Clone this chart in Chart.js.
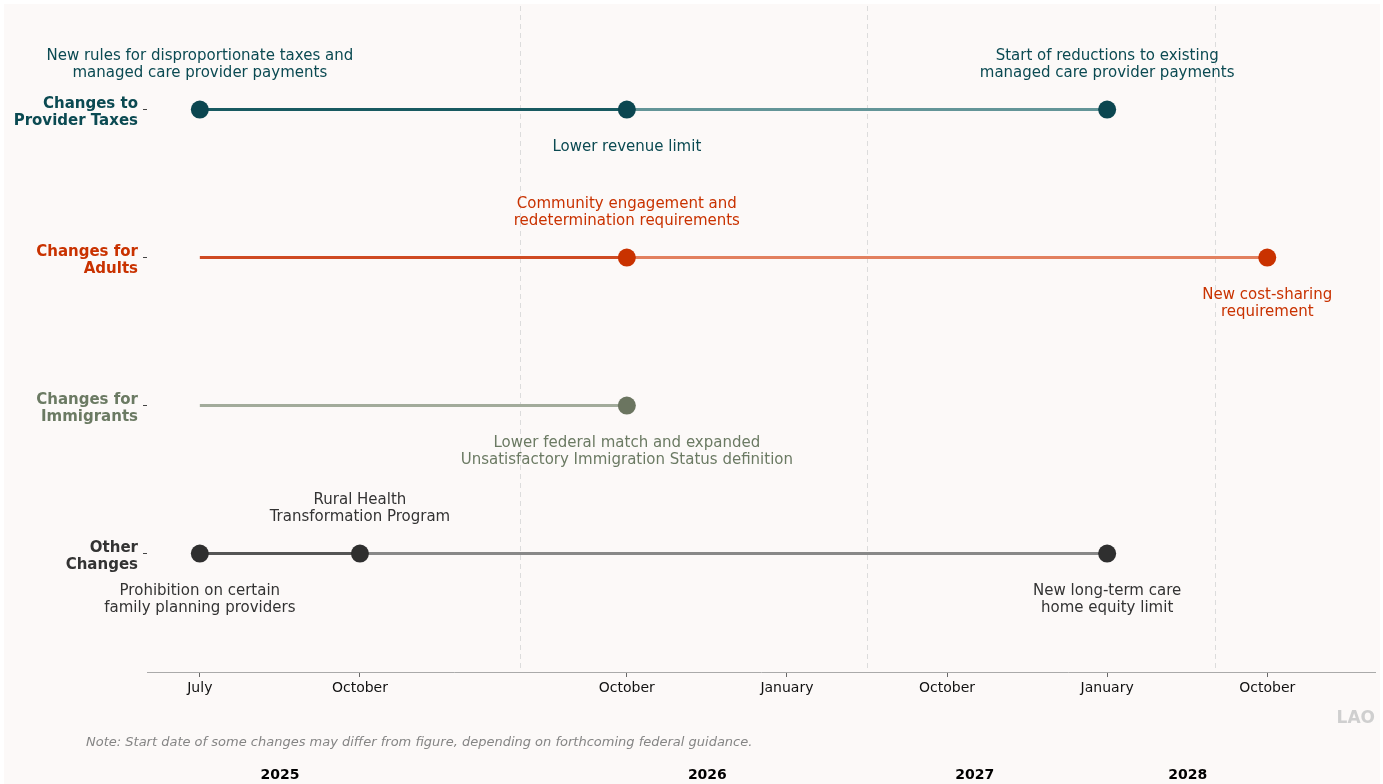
<!DOCTYPE html>
<html>
<head>
<meta charset="utf-8">
<script src="https://cdn.jsdelivr.net/npm/chart.js@4/dist/chart.umd.min.js"></script>
<style>
  html, body { margin: 0; padding: 0; background: #fff; }
  #wrap { width: 1383px; height: 784px; }
</style>
</head>
<body>
<div id="wrap"><canvas id="timeline" width="1383" height="784"></canvas></div>
<script>
// rows, top to bottom
const rowLabels = [['Changes to', 'Provider Taxes'], ['Changes for', 'Adults'], ['Changes for', 'Immigrants'], ['Other', 'Changes']];
const rowValues = [3, 2, 1, 0];
const rowColors = ['#0b4a52', '#c93200', '#6b7a63', '#333333'];
const rowSolid = ['#185a61', '#cf4a22', '#a2ab9b', '#555555'];
const rowFaded = ['#639598', '#e2805f', '#a2ab9b', '#888888'];
const rowPointColors = ['#0b4650', '#c93200', '#6b7560', '#2f2f2f'];

// timeline positions (axis units) of each row's milestones
const taxesDates = [0, 2.667, 5.667];
const adultsDates = [0, 2.667, 6.667];
const immigrantsDates = [0, 2.667];
const otherDates = [0, 1, 5.667];
const rowDates = [taxesDates, adultsDates, immigrantsDates, otherDates];
// whether a milestone gets a marker
const rowMarkers = [[1, 1, 1], [0, 1, 1], [0, 1], [1, 1, 1]];

// x axis
const tickValues = [0, 1, 2.667, 3.667, 4.667, 5.667, 6.667];
const tickLabels = ['July', 'October', 'October', 'January', 'October', 'January', 'October'];
const yearDividers = [2.0, 4.17, 6.34];
const yearLabels = ['2025', '2026', '2027', '2028'];
const yearLabelPos = [0.5, 3.17, 4.84, 6.17];

// annotations: [row index, x, side, lines]
const notes = [
  [0, 0, 'above', ['New rules for disproportionate taxes and', 'managed care provider payments']],
  [0, 2.667, 'below', ['Lower revenue limit']],
  [0, 5.667, 'above', ['Start of reductions to existing', 'managed care provider payments']],
  [1, 2.667, 'above', ['Community engagement and', 'redetermination requirements']],
  [1, 6.667, 'below', ['New cost-sharing', 'requirement']],
  [2, 2.667, 'below', ['Lower federal match and expanded', 'Unsatisfactory Immigration Status definition']],
  [3, 0, 'below', ['Prohibition on certain', 'family planning providers']],
  [3, 1, 'above', ['Rural Health', 'Transformation Program']],
  [3, 5.667, 'below', ['New long-term care', 'home equity limit']],
];

const FONT = "'DejaVu Sans', sans-serif";

const datasets = rowDates.map((dates, r) => ({
  data: dates.map(x => ({ x, y: rowValues[r] })),
  borderWidth: 3,
  borderColor: rowSolid[r],
  segment: { borderColor: ctx => ctx.p0DataIndex === 0 ? rowSolid[r] : rowFaded[r] },
  pointRadius: rowMarkers[r].map(m => m ? 9 : 0),
  pointHoverRadius: rowMarkers[r].map(m => m ? 9 : 0),
  pointBackgroundColor: rowPointColors[r],
  pointBorderColor: rowPointColors[r],
  pointBorderWidth: 0,
  clip: false,
}));

const backdrop = {
  id: 'backdrop',
  beforeDraw(chart) {
    const c = chart.ctx;
    c.save();
    c.fillStyle = '#ffffff';
    c.fillRect(0, 0, chart.width, chart.height);
    c.fillStyle = '#fcf9f8';
    c.fillRect(4, 4, chart.width - 7, chart.height - 4);
    c.restore();
  },
  beforeDatasetsDraw(chart) {
    const c = chart.ctx, xs = chart.scales.x, a = chart.chartArea;
    c.save();
    c.strokeStyle = '#dcdcdc';
    c.lineWidth = 1;
    c.setLineDash([5, 4]);
    yearDividers.forEach(v => {
      const px = Math.round(xs.getPixelForValue(v)) + 0.5;
      c.beginPath();
      c.moveTo(px, a.top);
      c.lineTo(px, a.bottom);
      c.stroke();
    });
    c.restore();
  },
  afterDraw(chart) {
    const c = chart.ctx, xs = chart.scales.x, ys = chart.scales.y;
    c.save();
    c.textAlign = 'center';
    c.textBaseline = 'middle';
    c.font = '15px ' + FONT;
    notes.forEach(([r, x, side, lines]) => {
      const px = xs.getPixelForValue(x);
      const py = ys.getPixelForValue(rowValues[r]) + 1;
      c.fillStyle = rowColors[r];
      lines.forEach((t, i) => {
        const y = side === 'above' ? py - 37 - (lines.length - 1 - i) * 17 : py + 37 + i * 17;
        c.fillText(t, px, y);
      });
    });
    c.fillStyle = '#000';
    c.font = 'bold 14px ' + FONT;
    yearLabels.forEach((t, i) => c.fillText(t, xs.getPixelForValue(yearLabelPos[i]), 775));
    c.textAlign = 'left';
    c.fillStyle = '#858585';
    c.font = 'italic 13px ' + FONT;
    c.fillText('Note: Start date of some changes may differ from figure, depending on forthcoming federal guidance.', 86, 743);
    c.textAlign = 'right';
    c.fillStyle = '#cfcfcf';
    c.font = 'bold 17px ' + FONT;
    c.fillText('LAO', 1375, 719);
    c.restore();
  }
};

new Chart(document.getElementById('timeline'), {
  type: 'line',
  data: { datasets },
  options: {
    responsive: false,
    animation: false,
    events: [],
    layout: { autoPadding: false, padding: { left: 0, right: 8, top: 6, bottom: 0 } },
    plugins: { legend: { display: false }, tooltip: { enabled: false } },
    scales: {
      x: {
        type: 'linear',
        min: -0.33,
        max: 7.34,
        afterBuildTicks: s => { s.ticks = tickValues.map(v => ({ value: v })); },
        afterFit: s => { s.height = 112; s.paddingLeft = 0; s.paddingRight = 0; },
        ticks: {
          callback: (v, i) => tickLabels[i],
          color: '#111',
          font: { family: FONT, size: 14 },
          padding: 3,
          maxRotation: 0,
          autoSkip: false,
        },
        grid: { drawOnChartArea: false, tickLength: 5, color: '#666' },
        border: { color: '#aaaaaa' },
      },
      y: {
        type: 'linear',
        min: -0.8,
        max: 3.7,
        afterBuildTicks: s => { s.ticks = rowValues.map(v => ({ value: v })); },
        afterFit: s => { s.width = 147; s.paddingTop = 0; s.paddingBottom = 0; },
        ticks: {
          callback: v => rowLabels[rowValues.indexOf(v)],
          color: ctx => rowColors[rowValues.indexOf(ctx.tick.value)],
          font: { family: FONT, size: 15, weight: 'bold', lineHeight: 1.13 },
          padding: 5,
          labelOffset: 3,
        },
        grid: { drawOnChartArea: false, tickLength: 4, color: '#444' },
        border: { display: false },
      },
    },
  },
  plugins: [backdrop],
});
</script>
</body>
</html>
